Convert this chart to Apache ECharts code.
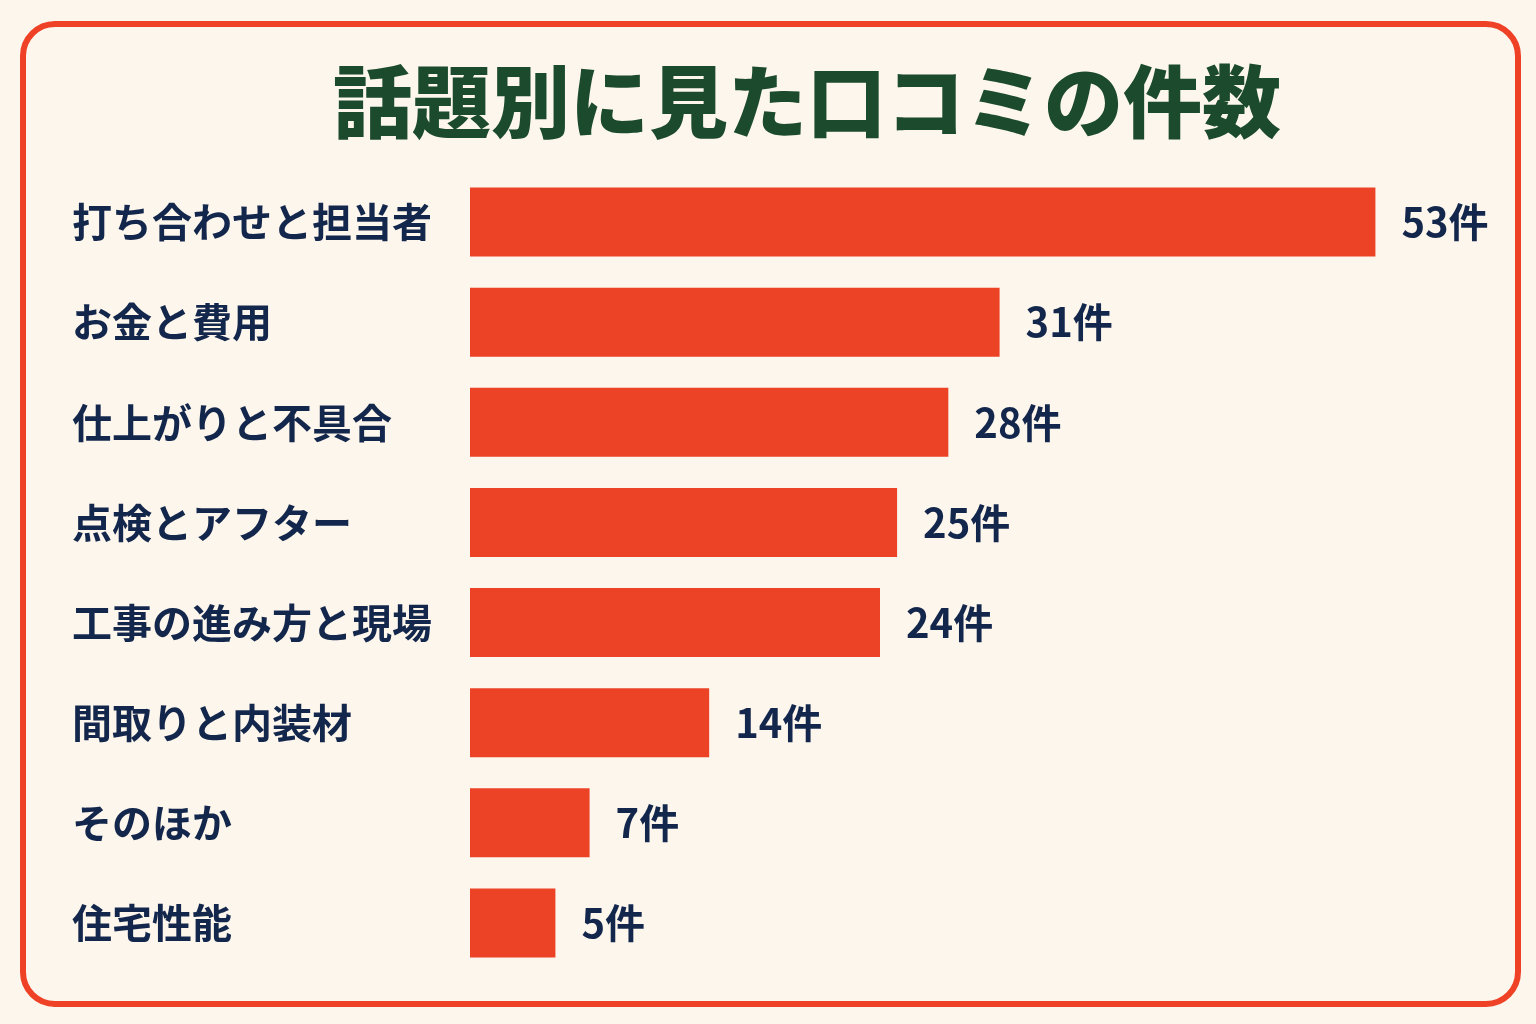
<!DOCTYPE html>
<html>
<head>
<meta charset="utf-8">
<script src="https://cdn.jsdelivr.net/npm/echarts@6/dist/echarts.min.js"></script>
<style>
  html, body { margin: 0; padding: 0; background: #fcf6ec; }
  #chart { width: 1536px; height: 1024px; }
</style>
</head>
<body>
<div id="chart"></div>
<script>
const TITLE = '話題別に見た口コミの件数';
const topics = ['打ち合わせと担当者', 'お金と費用', '仕上がりと不具合', '点検とアフター', '工事の進み方と現場', '間取りと内装材', 'そのほか', '住宅性能'];
const counts = [53, 31, 28, 25, 24, 14, 7, 5];
const UNIT = '件';

const FONT = '"Noto Sans CJK JP", "Noto Sans", sans-serif';
const BAR = '#ec4326';
const NAVY = '#13264b';
const GREEN = '#1b4a2c';

const chart = echarts.init(document.getElementById('chart'), null, { renderer: 'canvas' });

chart.setOption({
  animation: false,
  backgroundColor: '#fcf6ec',
  graphic: [{
    type: 'rect',
    left: 20, top: 21,
    shape: { width: 1495, height: 980, r: 32 },
    style: { fill: 'transparent', stroke: '#ee4125', lineWidth: 6 },
    z: -1
  }],
  title: {
    text: TITLE,
    left: 328,
    top: 57,
    textStyle: { fontFamily: FONT, fontSize: 79, fontWeight: 900, color: GREEN }
  },
  grid: { left: 470, right: 41, top: 172, bottom: 51, containLabel: false },
  xAxis: {
    type: 'value',
    min: 0,
    max: 60,
    show: false
  },
  yAxis: {
    type: 'category',
    data: topics,
    inverse: true,
    axisLine: { show: false },
    axisTick: { show: false },
    axisLabel: {
      align: 'left',
      margin: 398,
      fontFamily: FONT,
      fontSize: 40,
      fontWeight: 'bold',
      color: NAVY
    }
  },
  series: [{
    type: 'bar',
    data: counts,
    barWidth: 69,
    itemStyle: { color: BAR },
    label: {
      show: true,
      position: 'right',
      distance: 26,
      formatter: p => p.value + UNIT,
      fontFamily: FONT,
      fontSize: 40,
      fontWeight: 'bold',
      color: NAVY
    }
  }]
});
</script>
</body>
</html>
